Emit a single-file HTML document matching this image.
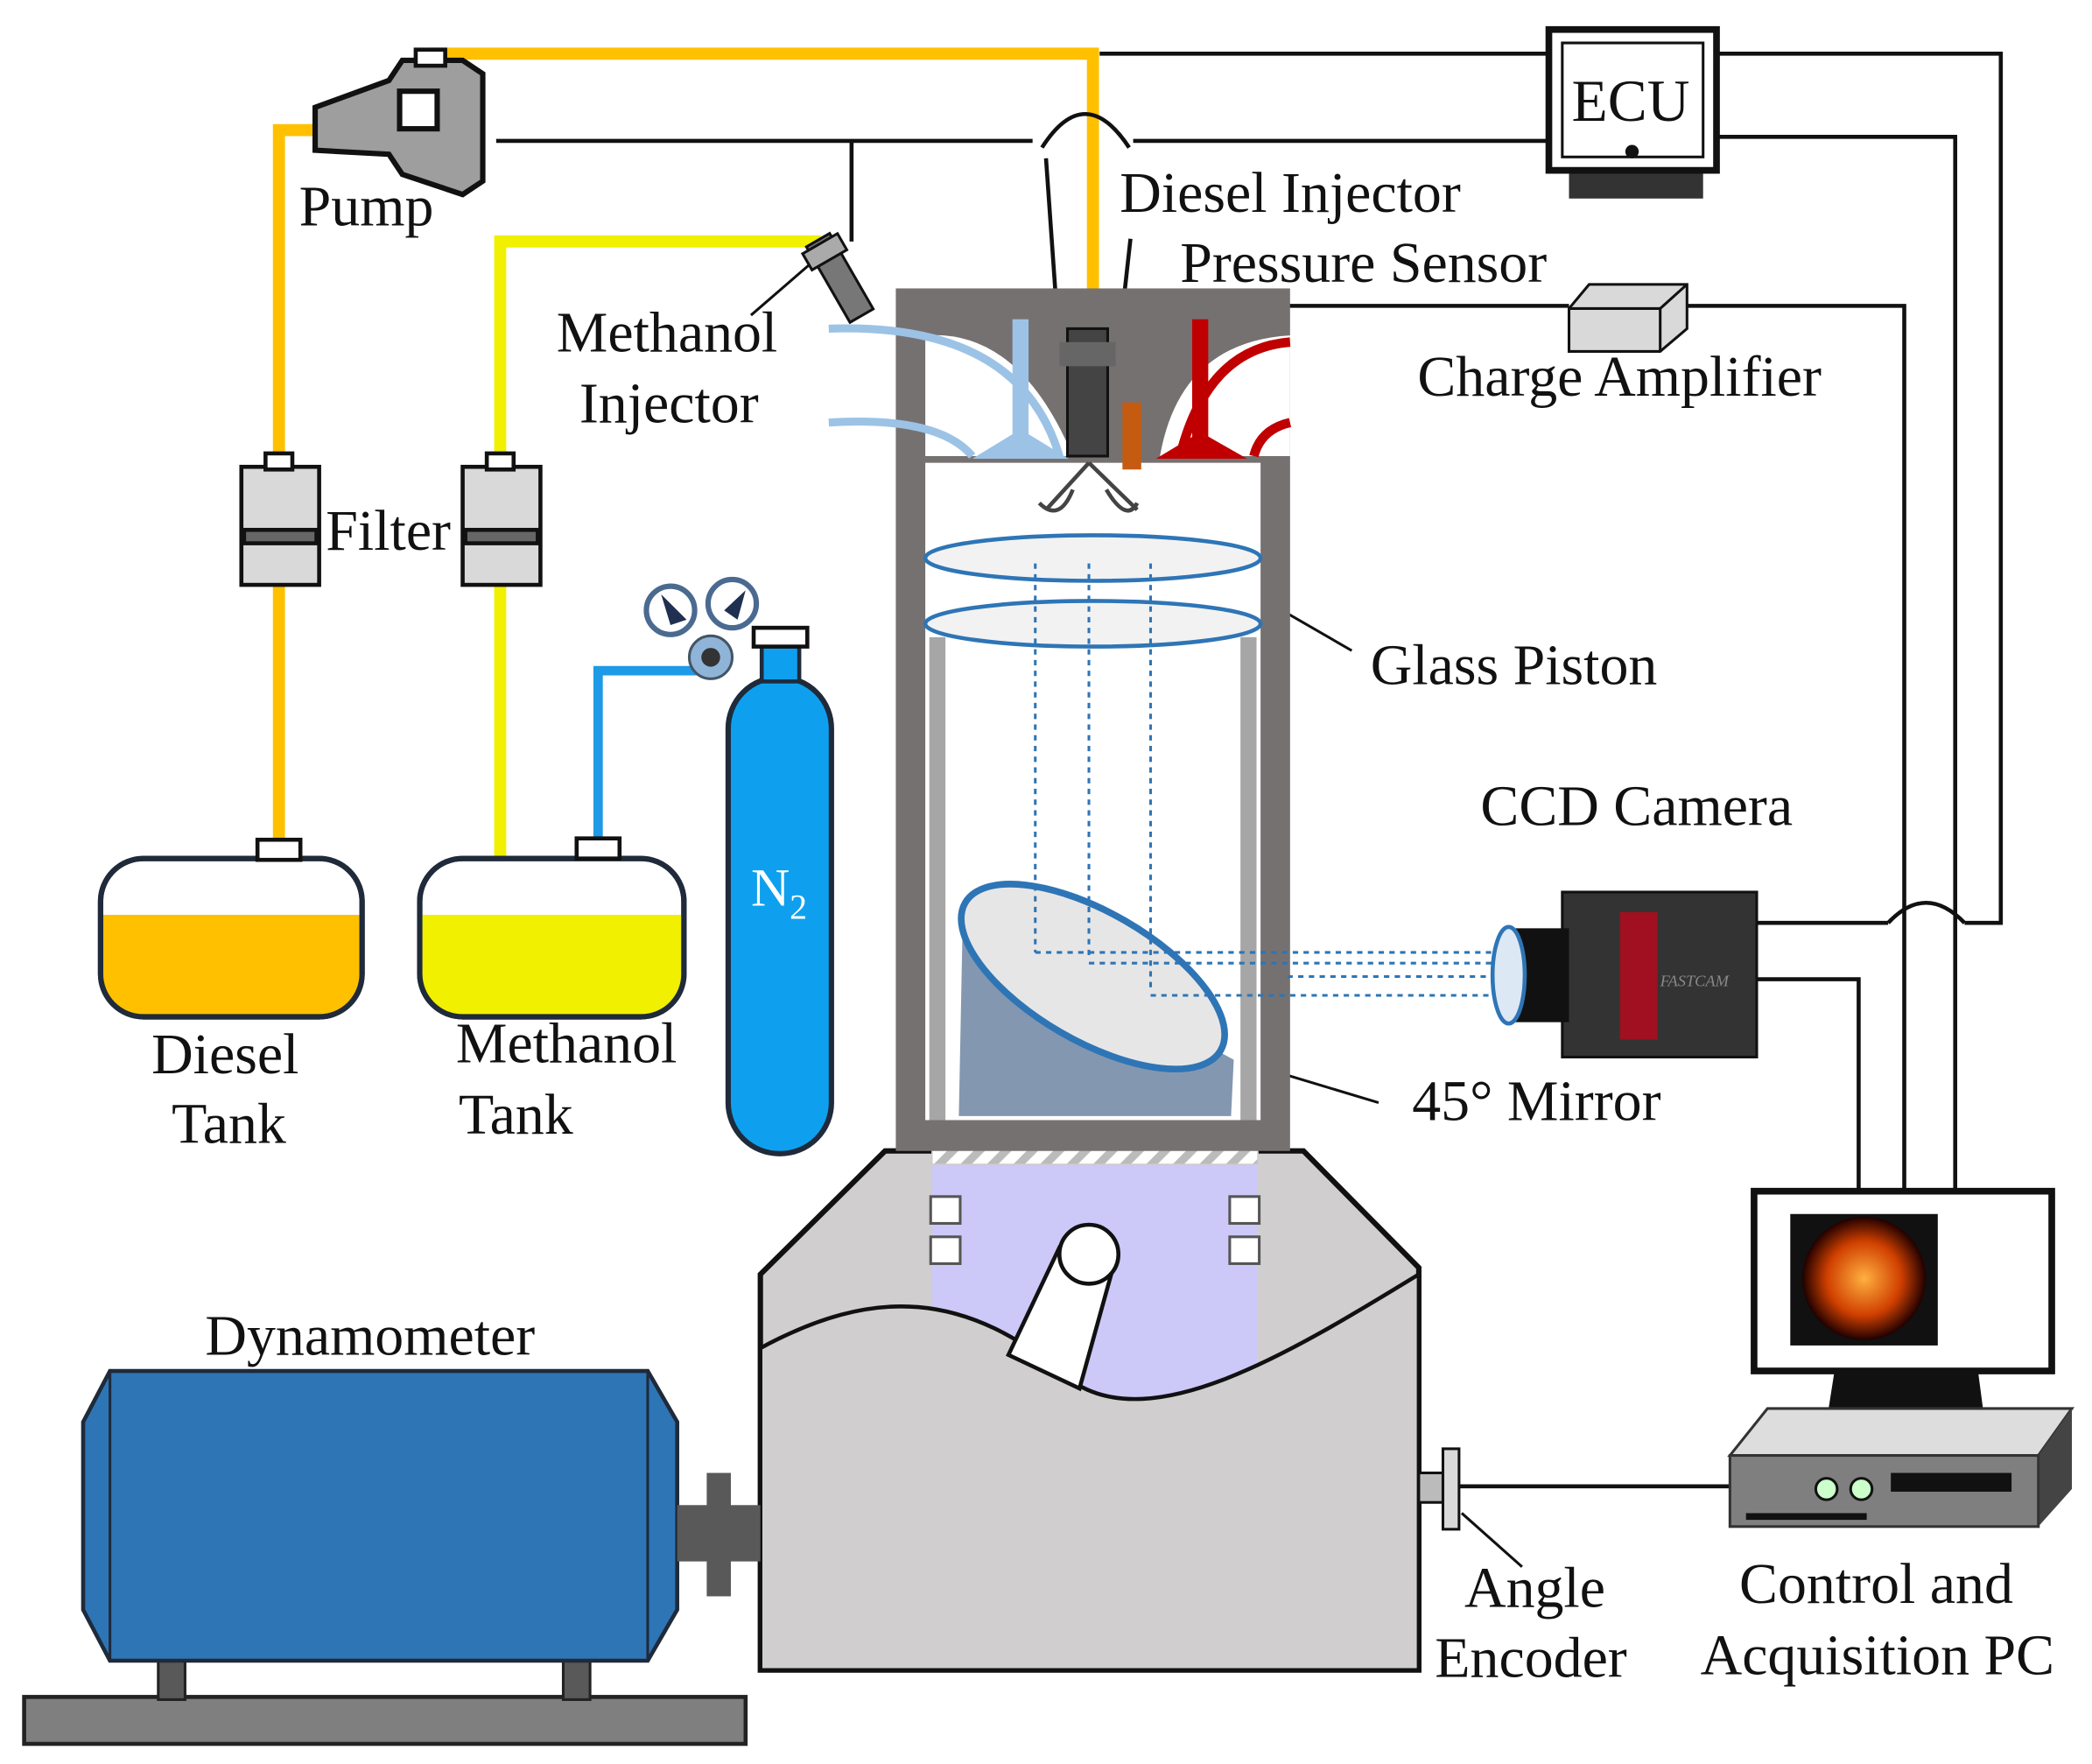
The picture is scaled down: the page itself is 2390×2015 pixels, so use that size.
<!DOCTYPE html>
<html><head><meta charset="utf-8"><style>html,body{margin:0;padding:0;background:#fff}svg{display:block}text{font-family:"Liberation Serif",serif;fill:#111}</style></head>
<body>
<svg width="2390" height="2015" viewBox="0 0 1560 1315" preserveAspectRatio="none" xmlns="http://www.w3.org/2000/svg">
<defs>
<pattern id="h" width="14" height="14" patternUnits="userSpaceOnUse" patternTransform="rotate(45)"><rect width="14" height="14" fill="#fff"/><rect width="6" height="14" fill="#bbb"/></pattern>
<radialGradient id="fire"><stop offset="0" stop-color="#ffb040"/><stop offset="0.6" stop-color="#d04000"/><stop offset="1" stop-color="#200000"/></radialGradient>
</defs>
<g fill="none" stroke-width="9">
<polyline points="208,640 208,97 240,97" stroke="#ffc000"/>
<polyline points="320,40 815,40 815,245" stroke="#ffc000"/>
<polyline points="373,640 373,180 612,180" stroke="#f0f000"/>
<polyline points="446,625 446,500 520,500" stroke="#1e9ae6" stroke-width="7"/>
</g>
<g fill="none" stroke="#111" stroke-width="3">
<polyline points="820,40 1155,40"/>
<polyline points="1280,40 1492,40 1492,688 1465,688"/>
<polyline points="1408,688 1305,688"/>
<path d="M1408,688 q28,-30 57,0"/>
<polyline points="370,105 770,105"/>
<path d="M777,110 q32,-50 65,0"/>
<polyline points="845,105 1155,105"/>
<polyline points="1280,102 1458,102 1458,888"/>
<polyline points="635,105 635,180"/>
<polyline points="845,330 845,228 1170,228"/>
<polyline points="1258,228 1420,228 1420,888"/>
<polyline points="1310,730 1386,730 1386,888"/>
<polyline points="1088,1108 1290,1108"/>
<line x1="780" y1="118" x2="790" y2="260"/>
<line x1="843" y1="178" x2="835" y2="250"/>
<line x1="888" y1="225" x2="850" y2="310"/>
<line x1="560" y1="235" x2="612" y2="190" stroke-width="2"/>
<line x1="930" y1="440" x2="1008" y2="485" stroke-width="2"/>
<line x1="905" y1="785" x2="1028" y2="822" stroke-width="2"/>
<line x1="1090" y1="1128" x2="1135" y2="1168" stroke-width="2"/>
</g>
<polygon points="235,80 290,60 300,45 345,45 360,55 360,135 345,145 300,130 290,115 235,112" fill="#9e9e9e" stroke="#111" stroke-width="4"/>
<rect x="298" y="68" width="28" height="28" fill="#fff" stroke="#111" stroke-width="4"/>
<rect x="310" y="37" width="22" height="12" fill="#fff" stroke="#111" stroke-width="3"/>
<g stroke="#111" stroke-width="3">
<rect x="180" y="348" width="58" height="88" fill="#d9d9d9"/><rect x="182" y="395" width="54" height="10" fill="#666"/><rect x="198" y="338" width="20" height="12" fill="#fff"/>
<rect x="345" y="348" width="58" height="88" fill="#d9d9d9"/><rect x="347" y="395" width="54" height="10" fill="#666"/><rect x="363" y="338" width="20" height="12" fill="#fff"/>
</g>
<rect x="75" y="640" width="195" height="118" rx="32" fill="#fff" stroke="#1f2a3a" stroke-width="4"/>
<path d="M77,682 H268 V728 a30,30 0 0 1 -30,30 H107 a30,30 0 0 1 -30,-30 Z" fill="#ffc000"/>
<rect x="75" y="640" width="195" height="118" rx="32" fill="none" stroke="#1f2a3a" stroke-width="4"/>
<rect x="192" y="626" width="32" height="15" fill="#fff" stroke="#111" stroke-width="3"/>
<rect x="313" y="640" width="197" height="118" rx="32" fill="#fff" stroke="#1f2a3a" stroke-width="4"/>
<path d="M315,682 H508 V728 a30,30 0 0 1 -30,30 H345 a30,30 0 0 1 -30,-30 Z" fill="#f0f000"/>
<rect x="313" y="640" width="197" height="118" rx="32" fill="none" stroke="#1f2a3a" stroke-width="4"/>
<rect x="430" y="625" width="32" height="15" fill="#fff" stroke="#111" stroke-width="3"/>
<rect x="543" y="505" width="77" height="355" rx="38" fill="#0ea0ee" stroke="#1f2a3a" stroke-width="4"/>
<rect x="568" y="480" width="28" height="28" fill="#0ea0ee" stroke="#1f2a3a" stroke-width="3"/>
<rect x="562" y="468" width="40" height="14" fill="#fff" stroke="#111" stroke-width="3"/>
<circle cx="530" cy="490" r="16" fill="#8fb4d8" stroke="#456" stroke-width="2"/>
<circle cx="530" cy="490" r="7" fill="#333"/>
<circle cx="500" cy="455" r="18" fill="#fff" stroke="#4a6a90" stroke-width="4"/>
<circle cx="546" cy="450" r="18" fill="#fff" stroke="#4a6a90" stroke-width="4"/>
<polygon points="493,443 512,462 500,466" fill="#1f3050"/><polygon points="556,440 540,455 550,462" fill="#1f3050"/>
<text x="560" y="675" font-size="40" style="fill:#fff">N<tspan font-size="26" dy="10" style="fill:#fff">2</tspan></text>
<polygon points="567,950 660,858 972,858 1058,945 1058,1245 567,1245" fill="#d0cece" stroke="#111" stroke-width="4"/>
<rect x="695" y="868" width="243" height="182" fill="#ccc8f8"/>
<path d="M567,1005 C650,960 720,960 800,1030 C860,1070 960,1010 1058,950 V1245 H567 Z" fill="#d0cece" stroke="#111" stroke-width="3"/>
<rect x="695" y="835" width="243" height="33" fill="url(#h)" stroke="#ccc" stroke-width="1"/>
<rect x="694" y="892" width="22" height="20" fill="#fff" stroke="#555" stroke-width="2"/><rect x="694" y="922" width="22" height="20" fill="#fff" stroke="#555" stroke-width="2"/>
<rect x="917" y="892" width="22" height="20" fill="#fff" stroke="#555" stroke-width="2"/><rect x="917" y="922" width="22" height="20" fill="#fff" stroke="#555" stroke-width="2"/>
<polygon points="790,930 830,945 805,1035 752,1010" fill="#fff" stroke="#111" stroke-width="3"/>
<circle cx="812" cy="935" r="22" fill="#fff" stroke="#111" stroke-width="3"/>
<rect x="668" y="215" width="294" height="643" fill="#767171"/>
<rect x="690" y="345" width="250" height="490" fill="#fff"/>
<rect x="693" y="475" width="12" height="360" fill="#a6a6a6"/><rect x="925" y="475" width="12" height="360" fill="#a6a6a6"/>
<path d="M690,250 Q760,245 800,340 L690,340 Z" fill="#fff"/>
<path d="M618,245 Q760,240 790,340 M618,315 Q700,310 725,340" fill="none" stroke="#9cc3e6" stroke-width="6"/>
<rect x="755" y="238" width="12" height="95" fill="#9cc3e6"/><polygon points="725,342 797,342 761,320" fill="#9cc3e6"/>
<path d="M962,250 Q880,255 865,340 L962,340 Z" fill="#fff"/>
<path d="M962,255 Q900,260 880,340 M962,315 Q940,320 935,340" fill="none" stroke="#c00000" stroke-width="7"/>
<rect x="889" y="238" width="12" height="95" fill="#c00000"/><polygon points="862,342 930,342 895,322" fill="#c00000"/>
<rect x="837" y="300" width="14" height="50" fill="#c55a11"/>
<rect x="796" y="245" width="30" height="95" fill="#444" stroke="#111" stroke-width="2"/><rect x="790" y="255" width="42" height="18" fill="#666"/>
<path d="M812,345 L780,380 M812,345 L848,380 M775,375 Q790,390 800,365 M825,365 Q840,390 848,375" stroke="#444" stroke-width="3" fill="#fff"/>
<ellipse cx="815" cy="416" rx="125" ry="17" fill="#f2f2f2" stroke="#2e75b6" stroke-width="3"/>
<ellipse cx="815" cy="465" rx="125" ry="17" fill="#f2f2f2" stroke="#2e75b6" stroke-width="3"/>
<polygon points="718,680 920,790 918,832 715,832" fill="#8497b0"/>
<ellipse cx="815" cy="728" rx="110" ry="48" transform="rotate(30 815 728)" fill="#e7e6e6" stroke="#2e75b6" stroke-width="5"/>
<g stroke="#2e75b6" stroke-width="2" stroke-dasharray="4,4" fill="none">
<line x1="772" y1="420" x2="772" y2="710"/><line x1="812" y1="420" x2="812" y2="715"/><line x1="858" y1="420" x2="858" y2="740"/>
<line x1="772" y1="710" x2="1118" y2="710"/><line x1="812" y1="718" x2="1118" y2="718"/><line x1="858" y1="742" x2="1118" y2="742"/>
<line x1="960" y1="728" x2="1118" y2="728"/>
</g>
<g transform="rotate(-30 625 205)"><rect x="615" y="175" width="20" height="65" fill="#777" stroke="#111" stroke-width="2"/><rect x="610" y="178" width="30" height="14" fill="#aaa" stroke="#111" stroke-width="2"/></g>
<rect x="1170" y="120" width="100" height="28" fill="#333"/>
<rect x="1155" y="22" width="125" height="105" fill="#fff" stroke="#111" stroke-width="5"/>
<rect x="1165" y="32" width="105" height="85" fill="#fff" stroke="#111" stroke-width="2"/>
<circle cx="1217" cy="113" r="5" fill="#111"/>
<text x="1172" y="90" font-size="44">ECU</text>
<polygon points="1170,230 1185,212 1258,212 1258,245 1238,262 1170,262" fill="#d9d9d9" stroke="#111" stroke-width="2"/>
<line x1="1170" y1="230" x2="1238" y2="230" stroke="#111" stroke-width="2"/><line x1="1238" y1="230" x2="1258" y2="212" stroke="#111" stroke-width="2"/><line x1="1238" y1="230" x2="1238" y2="262" stroke="#111" stroke-width="2"/>
<rect x="1165" y="665" width="145" height="123" fill="#333" stroke="#111" stroke-width="2"/>
<rect x="1208" y="680" width="28" height="95" fill="#a01020"/>
<text x="1238" y="735" font-size="12" font-style="italic" style="fill:#888">FASTCAM</text>
<rect x="1130" y="692" width="40" height="70" fill="#111"/>
<ellipse cx="1125" cy="727" rx="12" ry="36" fill="#dde8f5" stroke="#2e75b6" stroke-width="3"/>
<rect x="1308" y="888" width="222" height="134" fill="#fff" stroke="#111" stroke-width="5"/>
<rect x="1335" y="905" width="110" height="98" fill="#111"/>
<circle cx="1390" cy="953" r="46" fill="url(#fire)"/>
<polygon points="1368,1022 1475,1022 1480,1060 1362,1060" fill="#111"/>
<polygon points="1290,1085 1318,1050 1545,1050 1520,1085" fill="#ddd" stroke="#333" stroke-width="2"/>
<polygon points="1520,1085 1545,1050 1545,1110 1520,1138" fill="#444"/>
<rect x="1290" y="1085" width="230" height="53" fill="#7f7f7f" stroke="#333" stroke-width="2"/>
<circle cx="1362" cy="1110" r="8" fill="#cfc" stroke="#111" stroke-width="2"/><circle cx="1388" cy="1110" r="8" fill="#cfc" stroke="#111" stroke-width="2"/>
<rect x="1410" y="1098" width="90" height="14" fill="#111"/><rect x="1302" y="1128" width="90" height="5" fill="#111"/>
<rect x="1058" y="1098" width="18" height="22" fill="#bbb" stroke="#111" stroke-width="2"/>
<rect x="1076" y="1080" width="12" height="60" fill="#d9d9d9" stroke="#111" stroke-width="2"/>
<rect x="18" y="1265" width="538" height="35" fill="#7f7f7f" stroke="#222" stroke-width="3"/>
<rect x="118" y="1205" width="20" height="62" fill="#595959" stroke="#222" stroke-width="2"/>
<rect x="420" y="1205" width="20" height="62" fill="#595959" stroke="#222" stroke-width="2"/>
<polygon points="82,1022 483,1022 505,1060 505,1200 483,1238 82,1238 62,1200 62,1060" fill="#2e75b6" stroke="#1f2a3a" stroke-width="3"/>
<line x1="82" y1="1022" x2="82" y2="1238" stroke="#1f2a3a" stroke-width="2"/><line x1="483" y1="1022" x2="483" y2="1238" stroke="#1f2a3a" stroke-width="2"/>
<rect x="505" y="1122" width="62" height="42" fill="#595959"/>
<rect x="527" y="1098" width="18" height="92" fill="#595959"/>
<g font-size="43">
<text x="223" y="168">Pump</text>
<text x="243" y="410">Filter</text>
<text x="415" y="262">Methanol</text>
<text x="432" y="315">Injector</text>
<text x="835" y="158">Diesel Injector</text>
<text x="880" y="210">Pressure Sensor</text>
<text x="1057" y="295">Charge Amplifier</text>
<text x="1022" y="510">Glass Piston</text>
<text x="1104" y="615">CCD Camera</text>
<text x="1053" y="835">45° Mirror</text>
<text x="113" y="800">Diesel</text>
<text x="128" y="852">Tank</text>
<text x="340" y="792">Methanol</text>
<text x="342" y="845">Tank</text>
<text x="153" y="1010">Dynamometer</text>
<text x="1092" y="1198">Angle</text>
<text x="1070" y="1250">Encoder</text>
<text x="1297" y="1195">Control and</text>
<text x="1268" y="1248">Acquisition PC</text>
</g>
</svg>
</body></html>
